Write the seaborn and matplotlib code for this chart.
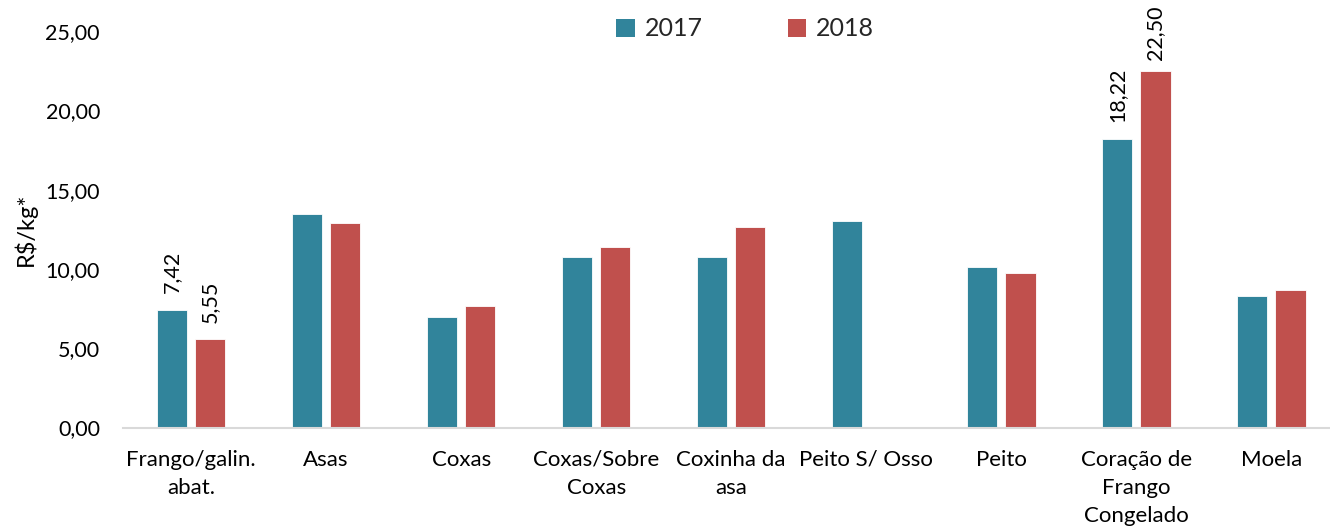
import numpy as np
import pandas as pd
import matplotlib
matplotlib.use("Agg")
import matplotlib.pyplot as plt
from matplotlib.patches import Patch
import seaborn as sns

categories = ["Frango/galin.\nabat.", "Asas", "Coxas", "Coxas/Sobre\nCoxas",
              "Coxinha da\nasa", "Peito S/ Osso", "Peito",
              "Coração de\nFrango\nCongelado", "Moela"]
values_2017 = [7.42, 13.48, 6.98, 10.72, 10.73, 13.02, 10.13, 18.22, 8.28]
values_2018 = [5.55, 12.90, 7.65, 11.40, 12.62, np.nan, 9.73, 22.50, 8.66]
years = ["2017", "2018"]
labelled_categories = ["Frango/galin.\nabat.", "Coração de\nFrango\nCongelado"]
y_ticks = [0, 5, 10, 15, 20, 25]

colors = {"2017": "#31849B", "2018": "#C0504D"}

df = pd.DataFrame({
    "categoria": categories * 2,
    "ano": ["2017"] * len(categories) + ["2018"] * len(categories),
    "valor": values_2017 + values_2018,
})

sns.set_theme(style="white")
plt.rcParams["font.family"] = ["Lato", "DejaVu Sans"]

fig = plt.figure(figsize=(13.3, 5.28), dpi=100)
ax = fig.add_axes([123.5 / 1330, 1 - 427.5 / 528, (1339 - 123.5) / 1330, (427.5 - 31) / 528])

sns.barplot(data=df, x="categoria", y="valor", hue="ano", order=categories,
            hue_order=years, palette=colors, width=0.565, gap=0.21,
            edgecolor="white", linewidth=0.6, saturation=1, legend=False, ax=ax)

ax.set_ylim(0, 25)
ax.set_xlim(-0.5, len(categories) - 0.5)
ax.set_yticks(y_ticks)
ax.set_yticklabels([f"{t:.2f}".replace(".", ",") for t in y_ticks], fontsize=15.5, color="#000000")
ax.set_xticks(range(len(categories)))
ax.set_xticklabels(categories, fontsize=16, color="#000000", linespacing=1.5)
ax.tick_params(axis="x", length=0, pad=16)
ax.tick_params(axis="y", length=0, pad=17)
ax.set_xlabel("")
ax.set_ylabel("R$/kg*", fontsize=17, color="#000000", labelpad=6)
for side in ["top", "right", "left"]:
    ax.spines[side].set_visible(False)
ax.spines["bottom"].set_color("#D9D9D9")
ax.spines["bottom"].set_linewidth(1.5)
ax.grid(False)

# value labels above the bars of the highlighted categories
label_idx = [categories.index(c) for c in labelled_categories]
value_labels = []
for container in ax.containers:
    for bar in container:
        cx = bar.get_x() + bar.get_width() / 2
        if int(round(cx)) in label_idx:
            h = bar.get_height()
            value_labels.append(ax.annotate(
                f"{h:.2f}".replace(".", ","), (cx, h),
                xytext=(0, 12), textcoords="offset points",
                rotation=90, ha="center", va="bottom",
                fontsize=15.5, color="#000000", annotation_clip=False))

# keep labels of tall bars inside the figure
renderer = fig.canvas.get_renderer()
top_limit = fig.bbox.height - 6
for t in value_labels:
    bb = t.get_window_extent(renderer)
    if bb.y1 > top_limit:
        dx, dy = t.xyann
        t.xyann = (dx, dy - (bb.y1 - top_limit) * 72 / fig.dpi)

handles = [Patch(facecolor=colors[y], edgecolor="none", label=y) for y in years]
fig.legend(handles=handles, loc="center", bbox_to_anchor=(745 / 1330, 1 - 29 / 528),
           ncol=2, frameon=False, fontsize=18, handlelength=0.75, handleheight=0.75,
           handletextpad=0.4, columnspacing=3.4)

fig.savefig("out.png", dpi=100)
